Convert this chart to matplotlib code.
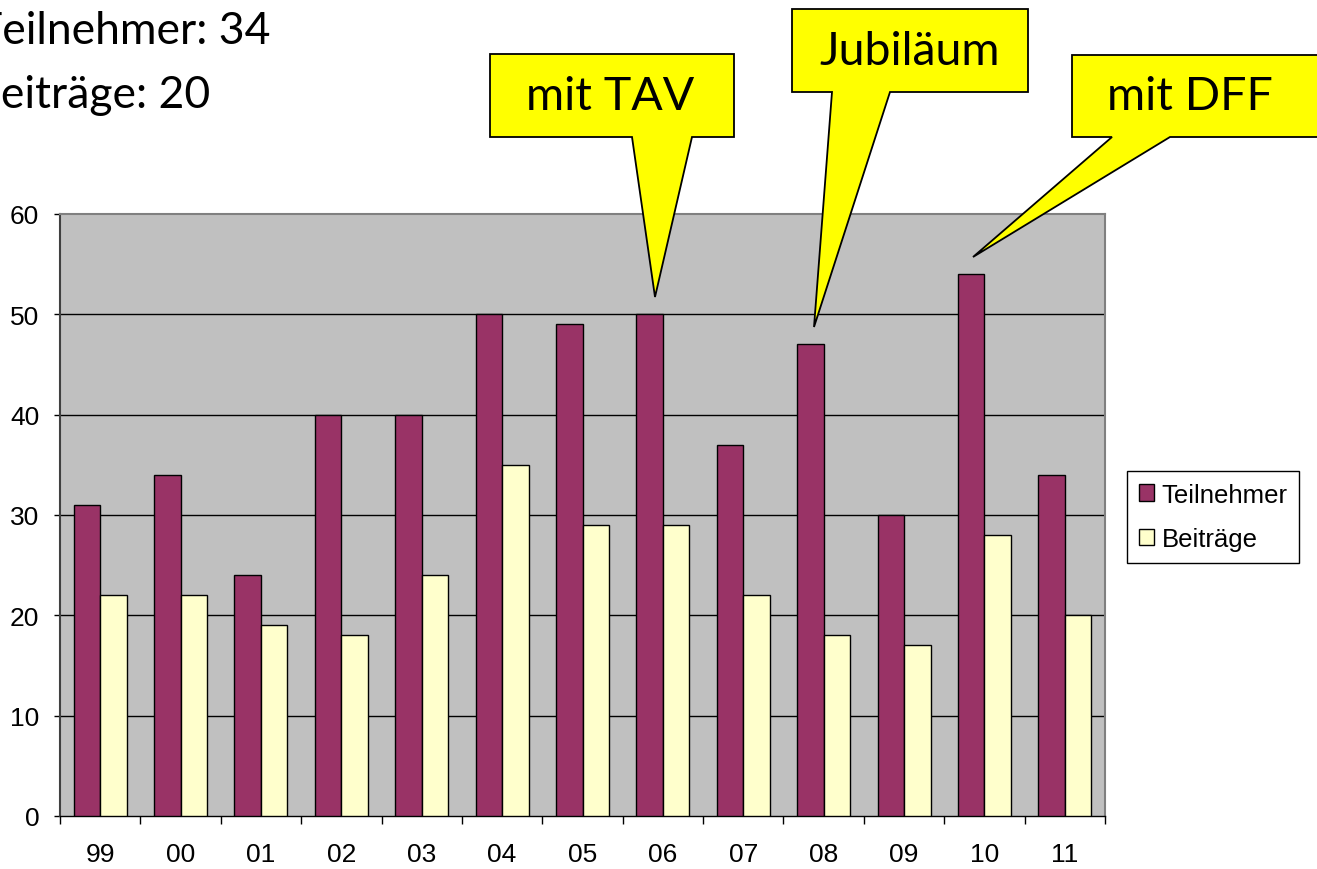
import matplotlib
matplotlib.use("Agg")
import matplotlib.pyplot as plt
from matplotlib.patches import Polygon
import numpy as np

years = ["99", "00", "01", "02", "03", "04", "05", "06", "07", "08", "09", "10", "11"]
teilnehmer = [31, 34, 24, 40, 40, 50, 49, 50, 37, 47, 30, 54, 34]
beitraege = [22, 22, 19, 18, 24, 35, 29, 29, 22, 18, 17, 28, 20]
yticks = [0, 10, 20, 30, 40, 50, 60]

plt.rcParams['font.family'] = ['Liberation Sans', 'DejaVu Sans']
W, H = 1317, 870
fig = plt.figure(figsize=(W / 100, H / 100), dpi=100)

ax = fig.add_axes([60 / W, 1 - 817 / H, 1045 / W, 602 / H])
ax.set_facecolor('#C0C0C0')
x = np.arange(len(years))
bw = 0.33
ax.bar(x - bw / 2, teilnehmer, bw, color='#993366', edgecolor='black', linewidth=1, label='Teilnehmer', zorder=3)
ax.bar(x + bw / 2, beitraege, bw, color='#FFFFCC', edgecolor='black', linewidth=1, label='Beiträge', zorder=3)

ax.set_xlim(-0.5, len(years) - 0.5)
ax.set_ylim(0, 60)
ax.set_yticks(yticks)
ax.set_yticklabels([str(v) for v in yticks])
for v in yticks[1:-1]:
    ax.axhline(v, color='black', linewidth=1, zorder=1)

ax.set_xticks(x)
ax.set_xticklabels(years)
ax.set_xticks(np.arange(-0.5, len(years)), minor=True)
ax.tick_params(axis='x', which='major', length=0, pad=19, labelsize=19)
ax.tick_params(axis='x', which='minor', length=6, width=1, color='black')
ax.tick_params(axis='y', length=4, width=1, pad=11, labelsize=19, color='black')

for s in ['top', 'right']:
    ax.spines[s].set_color('#808080')
    ax.spines[s].set_linewidth(1.5)
ax.spines['left'].set_color('#404040')
ax.spines['left'].set_linewidth(1.5)
ax.spines['bottom'].set_color('black')
ax.spines['bottom'].set_linewidth(1)

leg = fig.legend(loc='upper left', bbox_to_anchor=(1127 / W, 1 - 472 / H), bbox_transform=fig.transFigure,
                 fontsize=18.5, frameon=True, fancybox=False, edgecolor='black', framealpha=1,
                 handlelength=0.6, handleheight=0.6, handletextpad=0.3, borderpad=0.45,
                 labelspacing=0.8, borderaxespad=0)
leg.get_frame().set_linewidth(1)

def px(pts):
    return [(a / W, 1 - b / H) for a, b in pts]

callouts = [
    ("mit TAV", [(490, 55), (734, 55), (734, 138), (692, 138), (655, 298), (632, 138), (490, 138)], (610, 97)),
    ("Jubiläum", [(792, 10), (1028, 10), (1028, 93), (890, 93), (814, 328), (832, 93), (792, 93)], (910, 52)),
    ("mit DFF", [(1072, 56), (1330, 56), (1330, 138), (1170, 138), (973, 258), (1112, 138), (1072, 138)], (1190, 97)),
]
for text, poly, (tx, ty) in callouts:
    fig.add_artist(Polygon(px(poly), closed=True, facecolor='#FFFF00', edgecolor='black',
                           linewidth=1.3, transform=fig.transFigure, zorder=10))
    fig.text(tx / W, 1 - ty / H, text, ha='center', va='center', fontsize=33.5,
             family=['Lato', 'DejaVu Sans'], zorder=11)

fig.text(270 / W, 1 - 44 / H, "Teilnehmer: 34", ha='right', va='baseline', fontsize=32,
         family=['Lato', 'DejaVu Sans'])
fig.text(210 / W, 1 - 108 / H, "Beiträge: 20", ha='right', va='baseline', fontsize=32,
         family=['Lato', 'DejaVu Sans'])

fig.savefig("out.png", dpi=100)
